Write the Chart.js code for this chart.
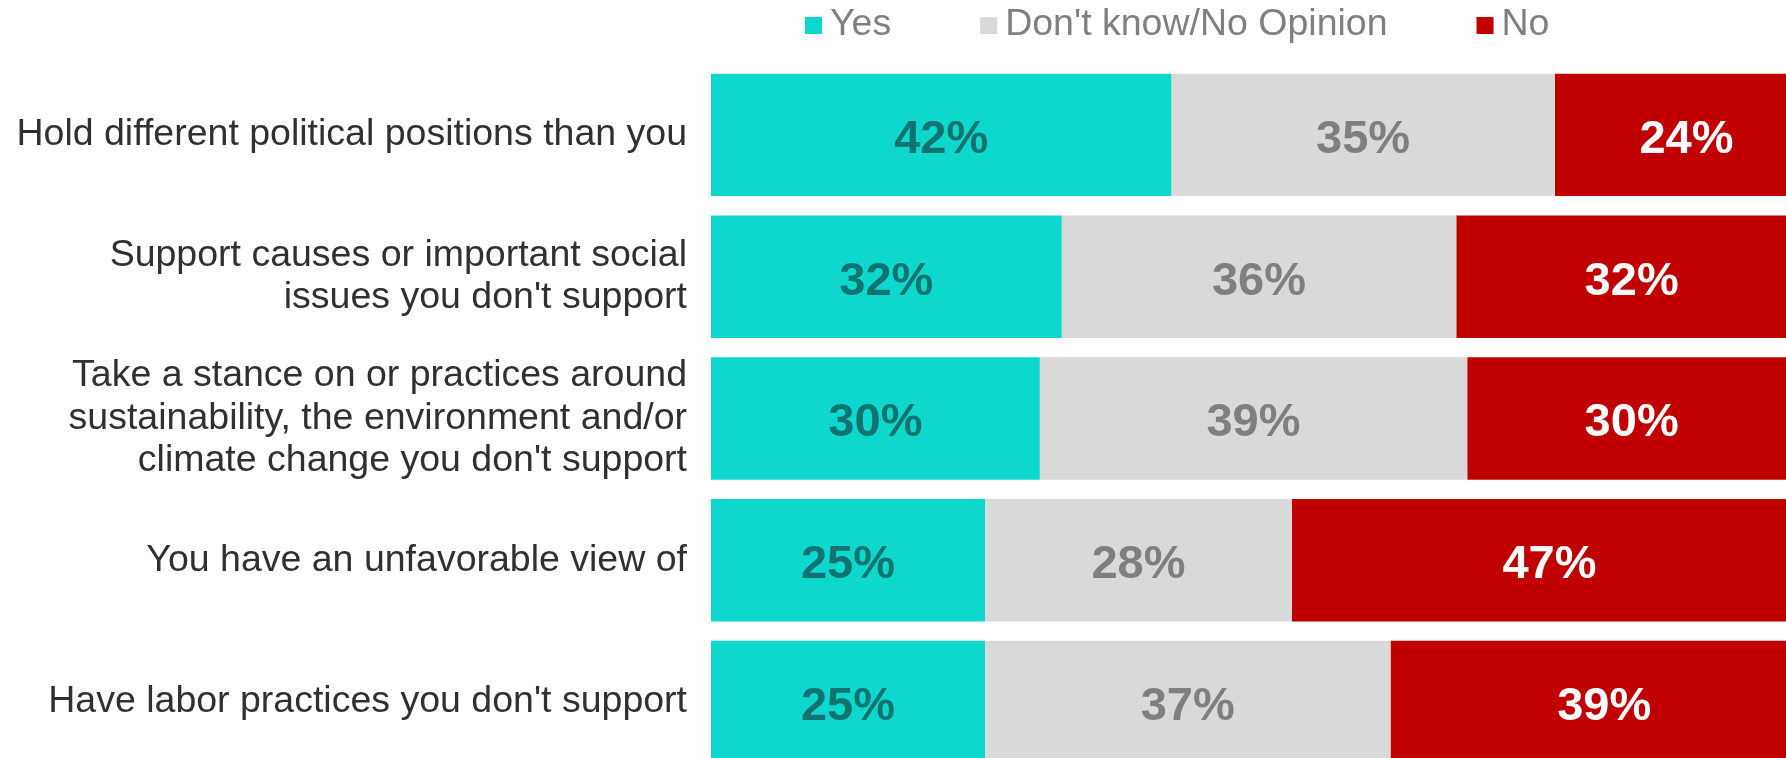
<!DOCTYPE html>
<html>
<head>
<meta charset="utf-8">
<title>Brand stance survey</title>
<script src="https://cdn.jsdelivr.net/npm/chart.js@4.4.1/dist/chart.umd.min.js"></script>
<style>
  html, body { margin: 0; padding: 0; background: #fff; overflow: hidden; }
  canvas { display: block; }
</style>
</head>
<body>
<canvas id="chartPostura" width="1807" height="818"></canvas>
<script>
// categorias y resultados (%)
const categorias = [
  'Hold different political positions than you',
  ['Support causes or important social', "issues you don't support"],
  ['Take a stance on or practices around', 'sustainability, the environment and/or', "climate change you don't support"],
  'You have an unfavorable view of',
  "Have labor practices you don't support",
];
const series = ['Yes', "Don't know/No Opinion", 'No'];
const valoresSi = [42, 32, 30, 25, 25];
const valoresNoSabe = [35, 36, 39, 28, 37];
const valoresNo = [24, 32, 30, 47, 39];

const colores = ['#0ED7CE', '#D9D9D9', '#C00000'];
const coloresEtiqueta = ['#11736F', '#7F7F7F', '#FFFFFF'];

const fuente = "'Liberation Sans', Arial, Helvetica, sans-serif";
Chart.defaults.font.family = fuente;

// etiquetas de porcentaje al centro de cada segmento
const etiquetasBarras = {
  id: 'etiquetasBarras',
  afterDatasetsDraw(chart) {
    const ctx = chart.ctx;
    ctx.save();
    ctx.textAlign = 'center';
    ctx.textBaseline = 'middle';
    ctx.font = `bold 47px ${fuente}`;
    chart.data.datasets.forEach((ds, i) => {
      const meta = chart.getDatasetMeta(i);
      ctx.fillStyle = coloresEtiqueta[i];
      meta.data.forEach((bar, j) => {
        const { x, y, base } = bar.getProps(['x', 'y', 'base'], true);
        ctx.fillText(ds.data[j] + '%', (x + base) / 2, y + 5);
      });
    });
    ctx.restore();
  },
};

// leyenda arriba, alineada sobre las barras
const leyenda = {
  id: 'leyenda',
  afterDraw(chart) {
    const ctx = chart.ctx;
    ctx.save();
    ctx.font = `37.5px ${fuente}`;
    ctx.textBaseline = 'middle';
    ctx.textAlign = 'left';
    let x = 805;
    const y = 25;
    series.forEach((nombre, i) => {
      ctx.fillStyle = colores[i];
      ctx.fillRect(x, y - 8, 17, 17);
      x += 25;
      ctx.fillStyle = '#7F7F7F';
      ctx.fillText(nombre, x, y);
      x += ctx.measureText(nombre).width + 89;
    });
    ctx.restore();
  },
};

const ctx = document.getElementById('chartPostura').getContext('2d');
new Chart(ctx, {
  type: 'bar',
  data: {
    labels: categorias,
    datasets: [
      { label: series[0], data: valoresSi, backgroundColor: colores[0] },
      { label: series[1], data: valoresNoSabe, backgroundColor: colores[1] },
      { label: series[2], data: valoresNo, backgroundColor: colores[2] },
    ],
  },
  options: {
    indexAxis: 'y',
    responsive: false,
    animation: false,
    devicePixelRatio: 1,
    layout: { padding: { top: 64, right: 0, bottom: 0, left: 0 } },
    datasets: {
      bar: { categoryPercentage: 1, barPercentage: 0.864, borderWidth: 0 },
    },
    scales: {
      x: {
        stacked: true,
        display: false,
        min: 0,
        max: 100,
      },
      y: {
        stacked: true,
        grid: { display: false, drawTicks: false },
        border: { display: false },
        afterFit(scale) {
          scale.width = 711;
        },
        ticks: {
          autoSkip: false,
          padding: 24,
          color: '#303030',
          font: { size: 37.5, lineHeight: 1.13 },
        },
      },
    },
    plugins: {
      legend: { display: false },
      tooltip: { enabled: false },
    },
  },
  plugins: [etiquetasBarras, leyenda],
});
</script>
</body>
</html>
